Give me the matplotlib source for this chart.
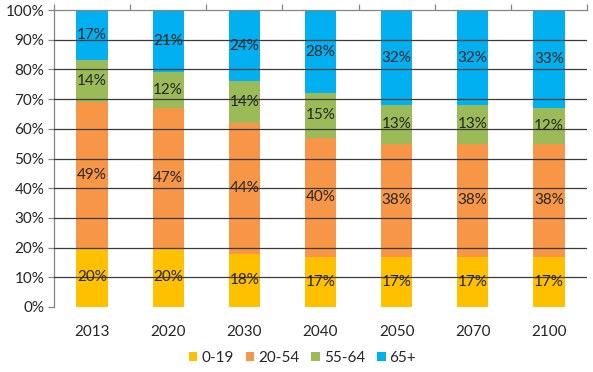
import matplotlib
matplotlib.use("Agg")
import matplotlib.pyplot as plt
import numpy as np

plt.rcParams['font.family'] = ['Lato', 'DejaVu Sans']

years = ["2013", "2020", "2030", "2040", "2050", "2070", "2100"]
groups = ["0-19", "20-54", "55-64", "65+"]
age_0_19 = [20, 20, 18, 17, 17, 17, 17]
age_20_54 = [49, 47, 44, 40, 38, 38, 38]
age_55_64 = [14, 12, 14, 15, 13, 13, 12]
age_65p = [17, 21, 24, 28, 32, 32, 33]
series = [age_0_19, age_20_54, age_55_64, age_65p]
colors = ["#FFC000", "#F79646", "#9BBB59", "#00B0F0"]

FS = 11

fig = plt.figure(figsize=(5.93, 3.72), dpi=100)
ax = fig.add_axes([54/593, 1-307/372, 533/593, 297/372])

x = np.arange(len(years))
bottom = np.zeros(len(years))
handles = []
for vals, col, name in zip(series, colors, groups):
    vals = np.array(vals, dtype=float)
    b = ax.bar(x, vals, 0.41, bottom=bottom, color=col, label=name, zorder=2)
    handles.append(b)
    for xi, v, bt in zip(x, vals, bottom):
        ax.text(xi, bt + v/2, f"{int(v)}%", ha="center", va="center",
                fontsize=FS, color="#262626", zorder=4)
    bottom += vals

for yv in range(10, 100, 10):
    ax.axhline(yv, color="#3a3a3a", lw=0.9, zorder=3)

ax.set_xlim(-0.5, len(years)-0.5)
ax.set_ylim(0, 100)
ax.set_yticks(range(0, 101, 10))
ax.set_yticklabels([f"{v}%" for v in range(0, 101, 10)], fontsize=FS, color="#262626")
ax.set_xticks(x)
ax.set_xticklabels(years, fontsize=FS, color="#262626")
ax.tick_params(axis="x", length=0, pad=13)
ax.tick_params(axis="y", length=4, color="#868686", width=0.9, pad=3)

for s in ["right", "bottom"]:
    ax.spines[s].set_visible(False)
ax.spines["left"].set_color("#868686")
ax.spines["left"].set_linewidth(0.9)
ax.spines["top"].set_color("#868686")
ax.spines["top"].set_linewidth(0.9)

# category separator ticks on the top axis
sec = ax.secondary_xaxis("top")
sec.set_xticks(np.arange(-0.5, len(years), 1.0))
sec.set_xticklabels([])
sec.tick_params(length=4, color="#868686", width=0.9, direction="out")
sec.spines["top"].set_visible(False)

leg = fig.legend(handles, groups, loc="center", bbox_to_anchor=(0.51, 1-358/372),
                 ncol=4, frameon=False, fontsize=FS, handlelength=0.55,
                 handleheight=0.55, handletextpad=0.25, columnspacing=0.8)
for t in leg.get_texts():
    t.set_color("#262626")

fig.savefig("out.png", dpi=100)
